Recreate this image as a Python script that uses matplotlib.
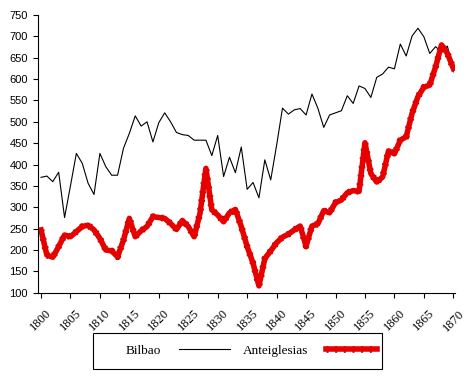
import matplotlib
matplotlib.use("Agg")
import matplotlib.pyplot as plt
from matplotlib.patches import Rectangle

# Population series, one value per year 1800-1870
years = list(range(1800, 1871))

bilbao = [370, 373, 360, 382, 276, 350, 426, 403, 356, 330,
          426, 395, 375, 375, 438, 473, 514, 490, 500, 453,
          498, 521, 500, 475, 470, 468, 457, 457, 457, 421,
          468, 372, 417, 381, 441, 342, 358, 322, 411, 364,
          445, 532, 518, 528, 531, 516, 565, 532, 487, 516,
          521, 526, 561, 543, 584, 578, 557, 604, 612, 628,
          624, 682, 654, 701, 719, 699, 660, 676, 662, 677,
          617]

anteiglesias = [247, 188, 183, 208, 235, 231, 243, 255, 258, 247,
                227, 200, 198, 184, 223, 274, 231, 245, 255, 278,
                276, 274, 262, 248, 269, 255, 231, 286, 391, 294,
                282, 266, 287, 295, 255, 208, 169, 116, 180, 198,
                217, 230, 237, 247, 256, 209, 256, 261, 292, 287,
                311, 317, 334, 339, 337, 451, 379, 359, 371, 432,
                425, 457, 465, 520, 559, 581, 586, 629, 680, 660,
                625]

yticks = list(range(100, 751, 50))
xticks = list(range(1800, 1871, 5))

fig = plt.figure(figsize=(4.73, 3.77), dpi=100)
ax = fig.add_axes([0.0797, 0.2236, 0.8823, 0.7366])

bl, = ax.plot(years, bilbao, color="black", lw=0.8)
# thick red line with a ragged dark edge
edge, = ax.plot(years, anteiglesias, color="#b00000", lw=4.8, ls=(0, (0.3, 1.0)))
red, = ax.plot(years, anteiglesias, color="#e60000", lw=4.0)

ax.set_xlim(1799.44, 1870.29)
ax.set_ylim(100, 750)
ax.set_xticks(xticks)
ax.set_yticks(yticks)
ax.set_xticklabels([str(x) for x in xticks], rotation=45, ha="center", va="top",
                   family="Liberation Serif", fontsize=9)
ax.set_yticklabels([str(y) for y in yticks], family="Liberation Sans", fontsize=8)
ax.tick_params(direction="out", length=3.6, width=0.8, color="black")
ax.tick_params(axis="x", pad=7)

ax.spines["top"].set_visible(False)
ax.spines["right"].set_visible(False)

# legend box (drawn separately, content sits right of centre as in the original)
fig.patches.append(Rectangle((0.1966, 0.0212), 0.611, 0.0955, transform=fig.transFigure,
                             fill=False, edgecolor="black", lw=0.8))
fig.legend([bl, (edge, red)], ["Bilbao", "Anteiglesias"],
           loc="center", bbox_to_anchor=(0.532, 0.069), ncol=2,
           markerfirst=False, handlelength=3.9, handletextpad=1.3,
           columnspacing=1.0, frameon=False,
           prop={"family": "Liberation Serif", "size": 9.5})

fig.savefig("out.png", dpi=100)
